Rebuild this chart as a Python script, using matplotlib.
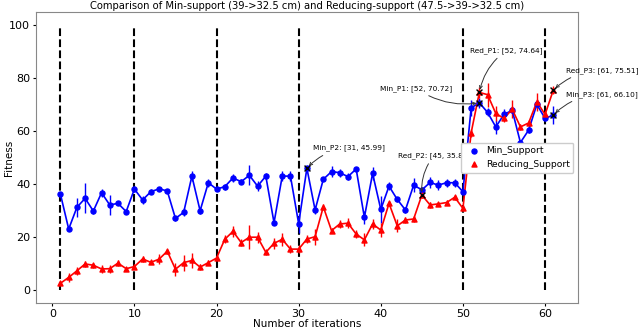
import numpy as np
import matplotlib
matplotlib.use("Agg")
import matplotlib.pyplot as plt

# iterations 1..61
iterations = list(range(1, 62))

min_support = [36.1, 23.0, 31.2, 34.6, 29.8, 36.7, 32.1, 32.7, 29.6, 38.1,
               34.0, 37.1, 38.2, 37.4, 27.0, 29.3, 43.0, 29.9, 40.5, 38.1,
               39.0, 42.3, 40.9, 43.3, 39.2, 43.0, 25.4, 43.0, 43.0, 25.0,
               45.99, 30.2, 41.8, 44.7, 44.3, 42.8, 45.7, 27.4, 44.0, 30.4,
               39.2, 34.2, 30.2, 39.6, 37.8, 40.6, 39.6, 40.5, 40.5, 37.1,
               68.8, 70.72, 67.1, 61.6, 66.3, 67.9, 55.7, 60.4, 70.1, 64.8,
               66.10]
min_err = [0.8, 0.8, 3.5, 5.7, 1.0, 1.5, 3.8, 0.8, 0.8, 1.2,
           1.5, 1.0, 0.8, 0.8, 1.0, 1.5, 1.8, 1.2, 1.5, 0.8,
           1.2, 1.5, 1.0, 3.8, 1.8, 1.0, 0.8, 2.0, 2.0, 3.5,
           0.8, 1.5, 0.8, 2.0, 1.5, 1.2, 0.8, 2.5, 2.5, 5.0,
           1.5, 1.0, 1.0, 2.5, 1.0, 2.0, 2.0, 1.5, 1.5, 1.0,
           3.0, 2.0, 1.5, 2.8, 2.0, 1.0, 1.0, 1.0, 1.5, 1.0,
           3.5]

red_support = [2.5, 4.7, 7.2, 9.8, 9.3, 7.9, 8.0, 10.1, 8.0, 8.8,
               11.7, 10.4, 11.6, 14.6, 7.8, 10.3, 11.1, 8.6, 10.3, 12.0,
               19.1, 22.1, 17.9, 19.9, 19.9, 14.2, 17.6, 19.1, 15.4, 15.4,
               19.2, 20.1, 31.4, 22.4, 24.9, 25.2, 21.1, 18.9, 24.9, 22.6,
               32.7, 24.2, 26.4, 26.8, 35.85, 32.1, 32.5, 33.0, 35.0, 30.8,
               59.4, 74.64, 73.8, 66.7, 64.8, 68.3, 61.6, 63.1, 71.1, 66.3,
               75.51]
red_err = [0.8, 1.8, 1.5, 1.2, 1.0, 1.5, 1.5, 1.2, 0.8, 0.8,
           1.2, 0.8, 1.8, 1.0, 2.5, 3.0, 3.0, 1.0, 1.0, 0.8,
           1.5, 2.0, 1.5, 4.5, 2.0, 1.0, 2.0, 2.5, 1.5, 1.5,
           1.5, 3.0, 1.0, 1.0, 1.5, 2.0, 1.5, 2.5, 2.0, 2.5,
           1.0, 2.5, 1.0, 1.0, 1.0, 1.0, 0.8, 0.8, 1.0, 1.0,
           1.5, 2.0, 4.5, 3.0, 1.5, 3.5, 1.0, 1.0, 3.5, 1.0,
           1.5]

# phase boundaries (dashed lines)
boundaries = [1, 10, 20, 30, 50, 60]

# highlighted points
ann_labels = ["Min_P2", "Red_P2", "Min_P1", "Red_P1", "Red_P3", "Min_P3"]
ann_x = [31, 45, 52, 52, 61, 61]
ann_y = [45.99, 35.85, 70.72, 74.64, 75.51, 66.10]
ann_text_x = [31.7, 42.1, 39.9, 50.9, 62.6, 62.6]
ann_text_y = [53.6, 50.9, 76.2, 90.6, 83.0, 74.0]
ann_rad = [0.2, 0.2, 0.2, 0.2, 0.2, 0.2]

fig = plt.figure(figsize=(6.4, 3.28), dpi=100)
ax = fig.add_axes([0.056, 0.076, 0.847, 0.887])

ax.vlines(boundaries, 0, 100, colors="k", linestyles="--", linewidth=1.5, zorder=1)

ax.errorbar(iterations, min_support, yerr=min_err, color="b", linewidth=1.2,
            elinewidth=1.0, zorder=2)
ax.errorbar(iterations, red_support, yerr=red_err, color="r", linewidth=1.2,
            elinewidth=1.0, zorder=2)
ax.scatter(iterations, min_support, color="b", marker="o", s=13, label="Min_Support", zorder=3)
ax.scatter(iterations, red_support, color="r", marker="^", s=13, label="Reducing_Support", zorder=3)

ax.scatter(ann_x, ann_y, color="k", marker="x", s=18, linewidths=1.0, zorder=4)
for lab, x, y, tx, ty, rad in zip(ann_labels, ann_x, ann_y, ann_text_x, ann_text_y, ann_rad):
    ax.annotate("%s: [%d, %.2f]" % (lab, x, y), xy=(x, y), xytext=(tx, ty),
                ha="left", va="center", fontsize=5.3, annotation_clip=False,
                arrowprops=dict(arrowstyle="->", color="#333333", lw=0.7,
                                connectionstyle="arc3,rad=%.2f" % rad))

ax.set_xlabel("Number of iterations", fontsize=7.5, labelpad=0)
ax.set_ylabel("Fitness", fontsize=7.5)
ax.yaxis.set_label_coords(-0.04, 0.5)
ax.set_title("Comparison of Min-support (39->32.5 cm) and Reducing-support (47.5->39->32.5 cm)",
             fontsize=7.2, pad=2)
ax.tick_params(labelsize=8, length=2, pad=2)
for sp in ax.spines.values():
    sp.set_color("#888888")
    sp.set_linewidth(0.8)

ax.legend(loc="center right", fontsize=6.6, framealpha=1.0, handletextpad=0.3)

fig.savefig("out.png", dpi=100)
